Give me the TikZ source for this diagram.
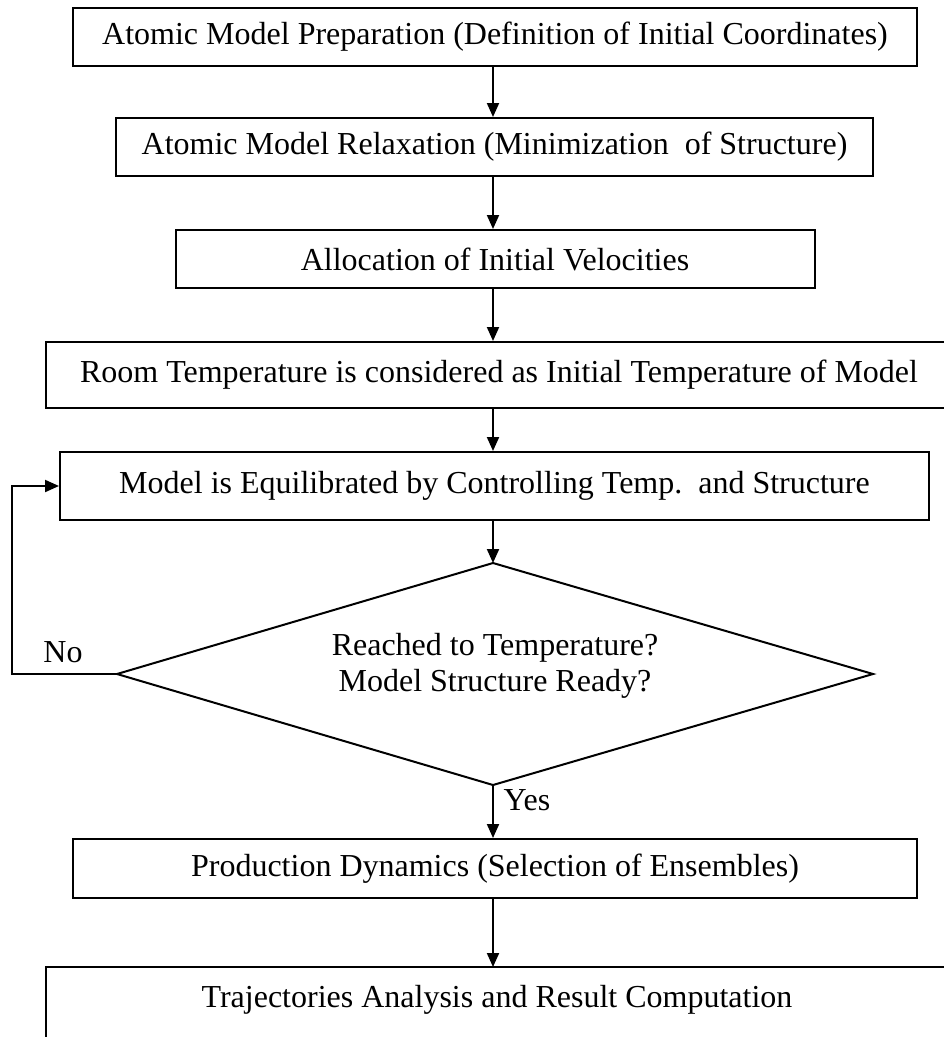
\documentclass[tikz,border=0pt]{standalone}
\usepackage{fontspec}
\setmainfont{Liberation Serif}
\usetikzlibrary{arrows.meta}
\begin{document}
\begin{tikzpicture}[x=1pt,y=-1pt,
  every node/.style={font=\fontsize{32}{38}\selectfont},
  box/.style={draw,line width=2pt,inner sep=0pt,minimum height=58pt},
  arr/.style={line width=2pt,-{Triangle[length=14pt,width=12pt]}},
  lbl/.style={inner sep=0pt}]
\clip (0,0) rectangle (944,1037);
\fill[white] (0,0) rectangle (944,1037);
\node[box,minimum width=844pt] (b1) at (495,37) {Atomic Model Preparation (Definition of Initial Coordinates)};
\node[box,minimum width=757pt] (b2) at (494.5,147) {Atomic Model Relaxation (Minimization\ \ of Structure)};
\node[box,minimum width=639pt] (b3) at (495,259) {Allocation of Initial Velocities};
\node[box,minimum width=906pt,minimum height=66pt] (b4) at (499,375) {Room Temperature is considered as Initial Temperature of Model};
\node[box,minimum width=869pt,minimum height=68pt] (b5) at (494.5,486) {Model is Equilibrated by Controlling Temp.\ \ and Structure};
\coordinate (dn) at (493,563);
\coordinate (ds) at (493,785);
\coordinate (dw) at (117,674);
\coordinate (de) at (873,674);
\draw[line width=2pt,line join=miter] (dn) -- (de) -- (ds) -- (dw) -- cycle;
\node[lbl,align=center] (d) at (495,666) {Reached to Temperature?\\[-2pt]Model Structure Ready?};
\node[box,minimum width=844pt,minimum height=59pt] (b6) at (495,868.5) {Production Dynamics (Selection of Ensembles)};
\node[lbl] (b7) at (497,1000) {Trajectories Analysis and Result Computation};
\coordinate (b7top) at (493,967);
\draw[line width=2pt] (46,1045) -- (46,967) -- (950,967);
\node[lbl] (no) at (63,652) {No};
\node[lbl] (yes) at (527,800) {Yes};
\draw[arr] (b1.south -| 493,0) -- (b2.north -| 493,0);
\draw[arr] (b2.south -| 493,0) -- (b3.north -| 493,0);
\draw[arr] (b3.south -| 493,0) -- (b4.north -| 493,0);
\draw[arr] (b4.south -| 493,0) -- (b5.north -| 493,0);
\draw[arr] (b5.south -| 493,0) -- (dn);
\draw[arr] (ds) -- (b6.north -| ds);
\draw[arr] (b6.south -| 493,0) -- (b7top);
\draw[arr] (dw) -- ++(-105,0) |- (b5.west);
\end{tikzpicture}
\end{document}
